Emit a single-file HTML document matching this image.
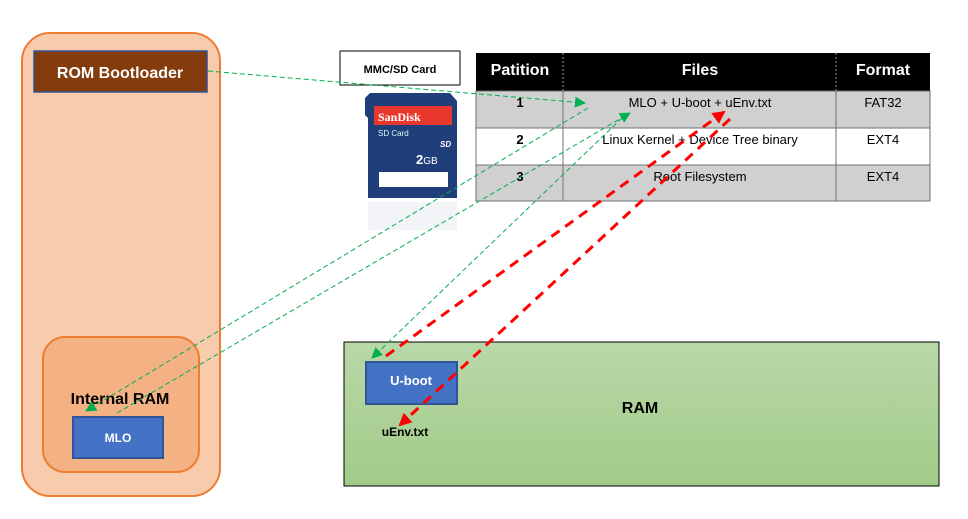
<!DOCTYPE html>
<html><head><style>
body{margin:0;background:#fff;}
svg{display:block;font-family:"Liberation Sans",sans-serif;}
</style></head><body>
<svg width="968" height="519" viewBox="0 0 968 519" xmlns="http://www.w3.org/2000/svg">
<defs>
<linearGradient id="gr" x1="0" y1="0" x2="0" y2="1"><stop offset="0" stop-color="#b8d8a8"/><stop offset="1" stop-color="#a2cb88"/></linearGradient>
<marker id="ga" markerWidth="11" markerHeight="11" refX="10" refY="5.5" orient="auto" markerUnits="userSpaceOnUse"><path d="M0,0 L11,5.5 L0,11 z" fill="#00b050"/></marker>
<marker id="ra" markerWidth="13" markerHeight="13" refX="11" refY="6.5" orient="auto" markerUnits="userSpaceOnUse"><path d="M0,0 L13,6.5 L0,13 z" fill="#ff0000"/></marker>
</defs>
<rect x="22" y="33" width="198" height="463" rx="28" fill="#f8cbad" stroke="#ed7d31" stroke-width="2"/>
<rect x="34" y="51" width="173" height="41" fill="#843c0c" stroke="#2f5597" stroke-width="1.5"/>
<text x="120" y="78" font-size="16" font-weight="bold" fill="#fff" text-anchor="middle">ROM Bootloader</text>
<rect x="43" y="337" width="156" height="135" rx="22" fill="#f4b183" stroke="#ed7d31" stroke-width="2"/>
<text x="120" y="404" font-size="16" font-weight="bold" text-anchor="middle">Internal RAM</text>
<rect x="73" y="417" width="90" height="41" fill="#4472c4" stroke="#2f5597" stroke-width="2"/>
<text x="118" y="442" font-size="12" font-weight="bold" fill="#fff" text-anchor="middle">MLO</text>
<rect x="340" y="51" width="120" height="34" fill="#fff" stroke="#000"/>
<text x="400" y="73" font-size="11" font-weight="bold" text-anchor="middle">MMC/SD Card</text>
<path d="M370,93 L450,93 L457,101 L457,198 L368,198 L368,118 L365,115 L365,98 z" fill="#1f3e7a"/>
<rect x="374" y="106" width="78" height="19" fill="#e8372c"/>
<text x="378" y="121" font-size="12" font-weight="bold" fill="#fff" font-family="Liberation Serif,serif">SanDisk</text>
<text x="378" y="136" font-size="8" fill="#cfe">SD Card</text>
<text x="440" y="147" font-size="8" font-style="italic" font-weight="bold" fill="#fff">SD</text>
<text x="416" y="164" font-size="13" font-weight="bold" fill="#fff">2<tspan font-size="10" font-weight="normal">GB</tspan></text>
<rect x="379" y="172" width="69" height="15" fill="#fff"/>
<rect x="368" y="202" width="89" height="28" fill="#e9edf3" opacity="0.6"/>
<rect x="476" y="53" width="454" height="38" fill="#000"/>
<rect x="476" y="91" width="454" height="37" fill="#d0d0d0"/>
<rect x="476" y="128" width="454" height="37" fill="#fff"/>
<rect x="476" y="165" width="454" height="36" fill="#d0d0d0"/>
<g stroke="#707070" stroke-width="1" fill="none">
<rect x="476" y="91" width="454" height="110"/>
<line x1="476" y1="128" x2="930" y2="128"/><line x1="476" y1="165" x2="930" y2="165"/>
<line x1="563" y1="91" x2="563" y2="201"/><line x1="836" y1="91" x2="836" y2="201"/>
</g>
<line x1="563" y1="53" x2="563" y2="91" stroke="#999" stroke-dasharray="2,2"/>
<line x1="836" y1="53" x2="836" y2="91" stroke="#999" stroke-dasharray="2,2"/>
<g font-size="16" font-weight="bold" fill="#fff" text-anchor="middle">
<text x="520" y="75">Patition</text><text x="700" y="75">Files</text><text x="883" y="75">Format</text></g>
<g font-size="13" text-anchor="middle">
<text x="520" y="107" font-weight="bold">1</text><text x="700" y="107">MLO + U-boot + uEnv.txt</text><text x="883" y="107">FAT32</text>
<text x="520" y="144" font-weight="bold">2</text><text x="700" y="144">Linux Kernel + Device Tree binary</text><text x="883" y="144">EXT4</text>
<text x="520" y="181" font-weight="bold">3</text><text x="700" y="181">Root Filesystem</text><text x="883" y="181">EXT4</text></g>
<rect x="344" y="342" width="595" height="144" fill="url(#gr)" stroke="#000"/>
<text x="640" y="413" font-size="16" font-weight="bold" text-anchor="middle">RAM</text>
<rect x="366" y="362" width="91" height="42" fill="#4472c4" stroke="#2f5597" stroke-width="2"/>
<text x="411" y="385" font-size="13" font-weight="bold" fill="#fff" text-anchor="middle">U-boot</text>
<text x="405" y="436" font-size="12" font-weight="bold" text-anchor="middle">uEnv.txt</text>
<g stroke="#00b050" stroke-width="1" stroke-dasharray="5,3" fill="none" marker-end="url(#ga)">
<line x1="208" y1="71" x2="585" y2="103"/>
<line x1="588" y1="108" x2="86" y2="411"/>
<line x1="117" y1="413" x2="630" y2="113"/>
<line x1="622" y1="118" x2="372" y2="358"/>
</g>
<g stroke="#ff0000" stroke-width="3" stroke-dasharray="10,7" fill="none" marker-end="url(#ra)">
<line x1="386" y1="356" x2="724" y2="112"/>
<line x1="730" y1="119" x2="400" y2="425"/>
</g>
</svg>
</body></html>
